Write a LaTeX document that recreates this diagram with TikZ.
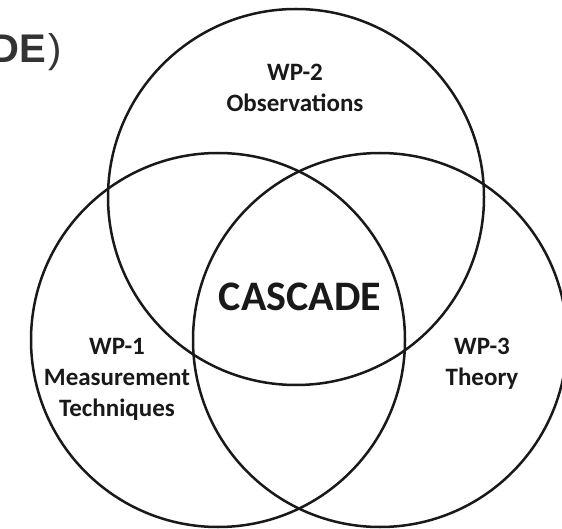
\documentclass[tikz,border=0pt]{standalone}
\usepackage{fontspec}
\setmainfont{Carlito}
\newfontfamily\arialfont{Liberation Sans}
\begin{document}
\begin{tikzpicture}[x=1pt,y=-1pt,
  ring/.style={draw=black!90, line width=2.5pt},
  wplabel/.style={font=\bfseries\fontsize{25}{31}\selectfont, align=center, text=black!90},
  corelabel/.style={font=\bfseries\fontsize{42}{46}\selectfont, text=black!90}]
\useasboundingbox (0,0) rectangle (562,529);
\clip (0,0) rectangle (562,529);
\fill[white] (0,0) rectangle (562,529);
\draw[ring] (296,197) circle (188);
\draw[ring] (218,340) circle (187);
\draw[ring] (380,340) circle (187);
\node[wplabel, anchor=base] (wp2) at (295,112) {WP-2\\Observations};
\node[wplabel, anchor=base] (wp1) at (117,416) {WP-1\\Measurement\\Techniques};
\node[wplabel, anchor=base] (wp3) at (482,385) {WP-3\\Theory};
\node[corelabel, anchor=base] (core) at (300,310) {CASCADE};
\node[anchor=base east, inner sep=0pt, text=black!80, font=\arialfont\fontsize{40}{44}\selectfont] (title) at (62,63) {\textbf{DE}\hspace{2pt})};
\end{tikzpicture}
\end{document}
